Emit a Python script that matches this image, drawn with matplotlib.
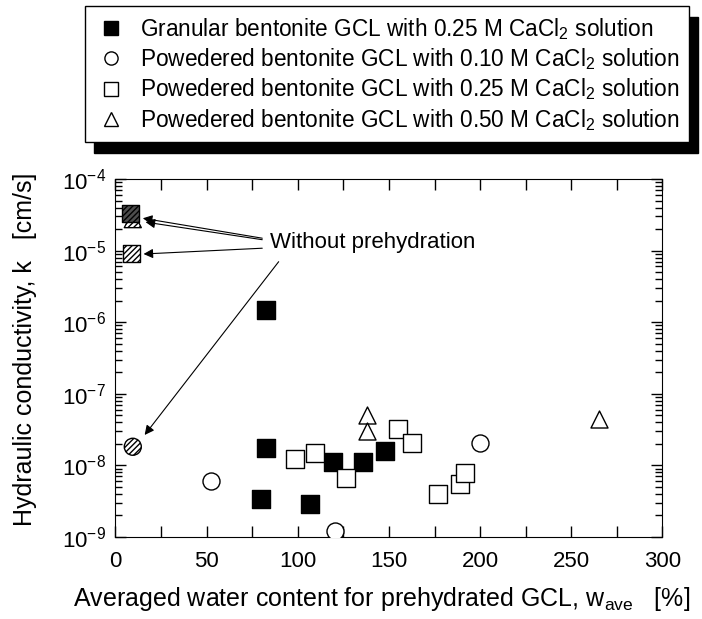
import matplotlib
matplotlib.use('Agg')
import matplotlib.pyplot as plt
from matplotlib.lines import Line2D
from matplotlib.patches import Rectangle
from matplotlib.ticker import LogLocator, MultipleLocator, NullFormatter

plt.rcParams['font.family'] = ['Liberation Sans', 'DejaVu Sans']
plt.rcParams['mathtext.fontset'] = 'custom'
plt.rcParams['mathtext.rm'] = 'Liberation Sans'
plt.rcParams['mathtext.it'] = 'Liberation Sans'

# granular bentonite, 0.25 M (prehydrated)
gran_w = [82.7, 80.0, 82.4, 106.5, 119.4, 135.9, 147.7]
gran_k = [1.77e-8, 3.4e-9, 1.48e-6, 2.86e-9, 1.10e-8, 1.13e-8, 1.6e-8]
# powdered bentonite, 0.10 M
p10_w = [52.4, 120.5, 200.0]
p10_k = [6.05e-9, 1.21e-9, 2.06e-8]
# powdered bentonite, 0.25 M
p25_w = [98.6, 109.5, 126.4, 155.2, 162.5, 176.7, 188.8, 191.9]
p25_k = [1.22e-8, 1.48e-8, 6.6e-9, 3.23e-8, 2.07e-8, 3.95e-9, 5.5e-9, 7.9e-9]
# powdered bentonite, 0.50 M
p50_w = [138.1, 138.1, 265.1]
p50_k = [5.06e-8, 3.05e-8, 4.4e-8]

# without prehydration (hatched)
noph_gran_w, noph_gran_k = [8.5], [3.3e-5]
noph_p10_w, noph_p10_k = [9.5], [1.82e-8]
noph_p25_w, noph_p25_k = [9.0], [9.1e-6]
noph_p50_w, noph_p50_k = [9.5], [2.75e-5]

labels = ['Granular bentonite GCL with 0.25 M CaCl$_2$ solution',
          'Powedered bentonite GCL with 0.10 M CaCl$_2$ solution',
          'Powedered bentonite GCL with 0.25 M CaCl$_2$ solution',
          'Powedered bentonite GCL with 0.50 M CaCl$_2$ solution']

fig = plt.figure(figsize=(7.02, 6.19), dpi=100)
ax = fig.add_axes([0.1645, 0.1325, 0.7792, 0.5783])

ms = 150
ax.scatter(gran_w, gran_k, marker='s', s=ms, c='black', edgecolors='black', zorder=3)
ax.scatter(p10_w, p10_k, marker='o', s=ms, facecolors='white', edgecolors='black', lw=1, zorder=3)
ax.scatter(p25_w, p25_k, marker='s', s=ms, facecolors='white', edgecolors='black', lw=1, zorder=3)
ax.scatter(p50_w, p50_k, marker='^', s=ms, facecolors='white', edgecolors='black', lw=1, zorder=3)

ax.scatter(noph_p50_w, noph_p50_k, marker='^', s=ms, facecolors='white', edgecolors='black',
           lw=1, hatch='//////', zorder=3)
ax.scatter(noph_gran_w, noph_gran_k, marker='s', s=ms, facecolors='0.3', edgecolors='black',
           lw=1, hatch='//////', zorder=4)
ax.scatter(noph_p25_w, noph_p25_k, marker='s', s=ms, facecolors='white', edgecolors='black',
           lw=1, hatch='//////', zorder=3)
ax.scatter(noph_p10_w, noph_p10_k, marker='o', s=ms, facecolors='white', edgecolors='black',
           lw=1, hatch='//////', zorder=3)

# annotation
ax.text(84.5, 1.28e-5, 'Without prehydration', fontsize=16, va='center', ha='left')
arrow = dict(arrowstyle='-|>', color='black', lw=0.8, mutation_scale=14, shrinkA=0, shrinkB=0)
ax.annotate('', xy=(15.0, 2.83e-5), xytext=(80.5, 1.49e-5), arrowprops=arrow)
ax.annotate('', xy=(16.5, 2.5e-5), xytext=(80.5, 1.42e-5), arrowprops=arrow)
ax.annotate('', xy=(15.4, 8.97e-6), xytext=(80.5, 1.08e-5), arrowprops=arrow)
ax.annotate('', xy=(16.0, 2.66e-8), xytext=(89.5, 7.0e-6), arrowprops=arrow)

ax.set_yscale('log')
ax.set_xlim(0, 300)
ax.set_ylim(1e-9, 1e-4)
ax.xaxis.set_major_locator(MultipleLocator(50))
ax.xaxis.set_minor_locator(MultipleLocator(25))
ax.yaxis.set_major_locator(LogLocator(base=10, numticks=10))
ax.yaxis.set_minor_locator(LogLocator(base=10, subs=range(2, 10), numticks=20))
ax.yaxis.set_minor_formatter(NullFormatter())
ax.tick_params(which='both', direction='in', top=True, right=True, labelsize=16)
ax.tick_params(which='major', length=8, width=1)
ax.tick_params(which='minor', length=5, width=1)
ax.tick_params(axis='x', which='minor', length=8)
ax.tick_params(axis='x', pad=10)
ax.tick_params(axis='y', pad=7)

ax.set_xlabel('Averaged water content for prehydrated GCL, w$_{\\mathrm{ave}}$   [%]', fontsize=18)
ax.set_ylabel('Hydraulic conductivity, k   [cm/s]', fontsize=18)
ax.xaxis.set_label_coords(0.487, -0.133)
ax.yaxis.set_label_coords(-0.143, 0.525)

# legend with a solid offset shadow
handles = [Line2D([], [], ls='', marker='s', ms=9.5, mfc='black', mec='black'),
           Line2D([], [], ls='', marker='o', ms=9.5, mfc='white', mec='black'),
           Line2D([], [], ls='', marker='s', ms=9.5, mfc='white', mec='black'),
           Line2D([], [], ls='', marker='^', ms=9.5, mfc='white', mec='black')]
leg = fig.legend(handles, labels, loc='upper left', bbox_to_anchor=(0.121, 0.990),
                 borderaxespad=0, fontsize=16.3, frameon=True, fancybox=False,
                 edgecolor='black', framealpha=1, handletextpad=0.57, labelspacing=0.2,
                 borderpad=0.42, handlelength=1.42)
leg.get_frame().set_linewidth(1)
fig.canvas.draw()
bb = leg.get_window_extent()
W, H = fig.bbox.width, fig.bbox.height
fig.patches.append(Rectangle(((bb.x0 + 9) / W, (bb.y0 - 11) / H), bb.width / W, bb.height / H,
                             transform=fig.transFigure, facecolor='black', edgecolor='black',
                             zorder=0))

fig.savefig('out.png', dpi=100)
